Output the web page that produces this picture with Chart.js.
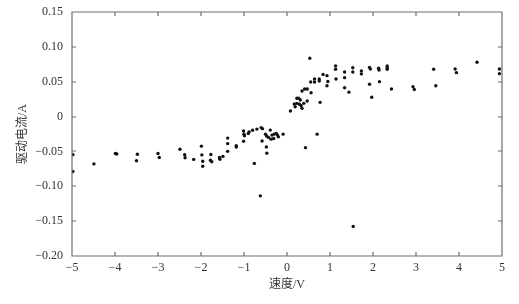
<!DOCTYPE html>
<html lang="zh">
<head>
    <meta charset="UTF-8">
    <title>驱动电流与速度</title>
    <script src="https://cdn.jsdelivr.net/npm/chart.js"></script>
    <style>
        body {
            margin: 0;
            padding: 0;
            background: #fff;
        }

        .wrap {
            position: relative;
            width: 519px;
            height: 304px;
        }

        #frame {
            position: absolute;
            left: 0;
            top: 0;
            pointer-events: none;
        }
    </style>
</head>
<body>
    <div class="wrap">
        <canvas id="chart" width="519" height="304"></canvas>
        <canvas id="frame" width="519" height="304"></canvas>
    </div>

    <script>
        // 速度 (V)
        const speed = [
            -4.98, -4.98, -4.49, -3.99, -3.96, -3.48, -3.50, -3.00, -2.97, -2.49,
            -2.38, -2.37, -2.17, -1.99, -1.98, -1.96, -1.96, -1.77, -1.78, -1.75,
            -1.57, -1.56, -1.49, -1.38, -1.38, -1.38, -1.18, -1.18, -1.01, -1.01,
            -1.00, -0.99, -0.90, -0.88, -0.80, -0.70, -0.60, -0.57, -0.76, -0.62,
            -0.58, -0.50, -0.48, -0.47, -0.39, -0.47, -0.43, -0.37, -0.35, -0.31,
            -0.30, -0.25, -0.22, -0.20, -0.09, 0.08, 0.19, 0.17, 0.23, 0.23,
            0.27, 0.31, 0.29, 0.33, 0.35, 0.39, 0.47, 0.35, 0.41, 0.47,
            0.43, 0.53, 0.55, 0.56, 0.64, 0.64, 0.75, 0.75, 0.70, 0.77,
            0.84, 0.93, 0.95, 0.93, 1.13, 1.13, 1.14, 1.34, 1.34, 1.34,
            1.44, 1.53, 1.53, 1.54, 1.73, 1.73, 1.92, 1.94, 1.92, 1.97,
            2.13, 2.14, 2.15, 2.33, 2.33, 2.33, 2.43, 2.93, 2.96, 3.41,
            3.46, 3.91, 3.94, 4.42, 4.94, 4.94
        ];

        // 驱动电流 (A)
        const current = [
            -0.0546, -0.0787, -0.0679, -0.0529, -0.0537, -0.0540, -0.0633, -0.0529, -0.0587, -0.0468,
            -0.0547, -0.0590, -0.0614, -0.0424, -0.0550, -0.0640, -0.0712, -0.0544, -0.0626, -0.0647,
            -0.0587, -0.0612, -0.0571, -0.0309, -0.0388, -0.0499, -0.0417, -0.0436, -0.0355, -0.0206,
            -0.0252, -0.0276, -0.0242, -0.0219, -0.0197, -0.0180, -0.0158, -0.0173, -0.0672, -0.1137,
            -0.0350, -0.0252, -0.0436, -0.0525, -0.0194, -0.0281, -0.0299, -0.0324, -0.0266, -0.0314,
            -0.0252, -0.0242, -0.0266, -0.0291, -0.0252, 0.0079, 0.0141, 0.0180, 0.0190, 0.0262,
            0.0262, 0.0237, 0.0176, 0.0155, 0.0118, 0.0190, 0.0223, 0.0367, 0.0396, 0.0396,
            -0.0446, 0.0837, 0.0496, 0.0342, 0.0540, 0.0496, 0.0540, 0.0511, -0.0252, 0.0204,
            0.0604, 0.0587, 0.0504, 0.0443, 0.0727, 0.0679, 0.0540, 0.0640, 0.0558, 0.0414,
            0.0350, 0.0700, 0.0640, -0.1576, 0.0655, 0.0612, 0.0705, 0.0681, 0.0463, 0.0278,
            0.0694, 0.0669, 0.0501, 0.0727, 0.0702, 0.0679, 0.0396, 0.0429, 0.0388, 0.0679,
            0.0443, 0.0683, 0.0630, 0.0780, 0.0683, 0.0616
        ];

        const xTicks = [-5, -4, -3, -2, -1, 0, 1, 2, 3, 4, 5];
        const yTicks = [-0.20, -0.15, -0.10, -0.05, 0, 0.05, 0.10, 0.15];

        const axisColor = '#6e6e6e';
        const textColor = '#333';
        const serifFont = '"Liberation Serif", "Times New Roman", serif';
        const cjkFont = '"Liberation Serif", "Noto Sans CJK SC", serif';

        // 负号用 "−"
        function fmt(v, digits) {
            if (Math.abs(v) < 1e-9) return '0';
            const s = Math.abs(v).toFixed(digits);
            return v < 0 ? '\u2212' + s : s;
        }

        // 刻度线由下面的 frame 层来画, 这里只留位置 (tickLength 取负, 朝里)
        const tickGrid = {
            display: true,
            drawOnChartArea: false,
            drawTicks: true,
            tickLength: -4,
            color: 'rgba(0,0,0,0)',
            lineWidth: 1
        };
        const frameBorder = { display: true, color: 'rgba(0,0,0,0)', width: 1 };

        function xAxis(extra) {
            return Object.assign({
                type: 'linear',
                min: -5,
                max: 5,
                grid: tickGrid,
                border: frameBorder,
                afterBuildTicks(scale) {
                    scale.ticks = xTicks.map(v => ({ value: v }));
                }
            }, extra);
        }

        function yAxis(extra) {
            return Object.assign({
                type: 'linear',
                min: -0.20,
                max: 0.15,
                grid: tickGrid,
                border: frameBorder,
                afterBuildTicks(scale) {
                    scale.ticks = yTicks.map(v => ({ value: v }));
                }
            }, extra);
        }

        const points = speed.map((s, i) => ({ x: s, y: current[i] }));

        const chart = new Chart(document.getElementById('chart'), {
            type: 'scatter',
            data: {
                datasets: [{
                    data: points,
                    xAxisID: 'x',
                    yAxisID: 'y',
                    backgroundColor: '#111',
                    borderColor: '#111',
                    borderWidth: 0,
                    pointRadius: 1.7,
                    pointHoverRadius: 1.7
                }]
            },
            options: {
                responsive: false,
                animation: false,
                events: [],
                layout: {
                    padding: { top: 12, right: 17, left: 0, bottom: 0 }
                },
                plugins: {
                    legend: { display: false },
                    tooltip: { enabled: false }
                },
                scales: {
                    x: xAxis({
                        position: 'bottom',
                        afterFit(scale) {
                            scale.height = 48;
                            scale.paddingLeft = 0;
                            scale.paddingRight = 0;
                        },
                        ticks: {
                            padding: 9,
                            color: textColor,
                            font: { family: serifFont, size: 12 },
                            maxRotation: 0,
                            callback: v => fmt(v, 0)
                        },
                        title: {
                            display: true,
                            text: '速度/V',
                            color: textColor,
                            font: { family: cjkFont, size: 12 },
                            padding: { top: 0, bottom: 12 }
                        }
                    }),
                    x2: xAxis({
                        position: 'top',
                        afterFit(scale) {
                            scale.height = 0;
                            scale.paddingLeft = 0;
                            scale.paddingRight = 0;
                        },
                        ticks: { display: false }
                    }),
                    y: yAxis({
                        position: 'left',
                        afterFit(scale) {
                            scale.width = 72;
                            scale.paddingTop = 0;
                            scale.paddingBottom = 0;
                        },
                        ticks: {
                            padding: 13,
                            color: textColor,
                            font: { family: serifFont, size: 12 },
                            callback: v => fmt(v, 2)
                        },
                        title: {
                            display: true,
                            text: '驱动电流/A',
                            color: textColor,
                            font: { family: cjkFont, size: 12 },
                            padding: { top: 16, bottom: 0 }
                        }
                    }),
                    y2: yAxis({
                        position: 'right',
                        afterFit(scale) {
                            scale.width = 0;
                            scale.paddingTop = 0;
                            scale.paddingBottom = 0;
                        },
                        ticks: { display: false }
                    })
                }
            }
        });

        // 外框和朝里的刻度另画一层, 位置取自 chart 的坐标轴
        (function drawFrame() {
            const ctx = document.getElementById('frame').getContext('2d');
            const { left, right, top, bottom } = chart.chartArea;
            const xs = chart.scales.x;
            const ys = chart.scales.y;
            const len = 4;
            const l = Math.round(left);
            const r = Math.round(right);
            const t = Math.round(top);
            const b = Math.round(bottom);
            ctx.strokeStyle = axisColor;
            ctx.lineWidth = 1.2;
            ctx.beginPath();
            ctx.rect(l, t, r - l, b - t);
            xTicks.forEach(v => {
                const px = Math.round(xs.getPixelForValue(v));
                ctx.moveTo(px, b);
                ctx.lineTo(px, b - len);
                ctx.moveTo(px, t);
                ctx.lineTo(px, t + len);
            });
            yTicks.forEach(v => {
                const py = Math.round(ys.getPixelForValue(v));
                ctx.moveTo(l, py);
                ctx.lineTo(l + len, py);
                ctx.moveTo(r, py);
                ctx.lineTo(r - len, py);
            });
            ctx.stroke();
        })();
    </script>
</body>
</html>
